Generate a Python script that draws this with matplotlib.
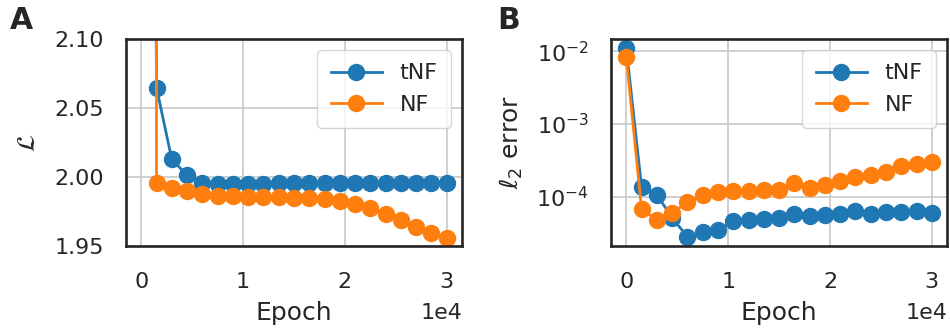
import numpy as np
import matplotlib
matplotlib.use("Agg")
from matplotlib import pyplot as plt
from matplotlib import transforms as mtransforms

# epochs (panel A shares the grid; the first loss value is far above the y range)
epochs = [0, 1500, 3000, 4500, 6000, 7500, 9000, 10500, 12000, 13500, 15000,
          16500, 18000, 19500, 21000, 22500, 24000, 25500, 27000, 28500, 30000]

loss_tnf = [4.0, 2.0647, 2.0127, 2.0013, 1.9957, 1.9948, 1.9948, 1.9950, 1.9952,
            1.9953, 1.9954, 1.9955, 1.9956, 1.9956, 1.9957, 1.9957, 1.9957,
            1.9957, 1.9957, 1.9957, 1.9957]
loss_nf = [12.0, 1.9960, 1.9923, 1.9899, 1.9880, 1.9863, 1.9860, 1.9856, 1.9853,
           1.9853, 1.9848, 1.9846, 1.9839, 1.9827, 1.9807, 1.9772, 1.9735,
           1.9691, 1.9638, 1.9594, 1.9558]

err_tnf = [1.10e-2, 1.34e-4, 1.07e-4, 5.08e-5, 2.82e-5, 3.23e-5, 3.48e-5, 4.58e-5,
           4.78e-5, 4.93e-5, 5.08e-5, 5.71e-5, 5.48e-5, 5.60e-5, 5.77e-5, 6.28e-5,
           5.71e-5, 6.08e-5, 6.15e-5, 6.35e-5, 5.90e-5]
err_nf = [8.27e-3, 6.76e-5, 4.78e-5, 5.96e-5, 8.36e-5, 1.05e-4, 1.16e-4, 1.18e-4,
          1.21e-4, 1.24e-4, 1.24e-4, 1.56e-4, 1.32e-4, 1.46e-4, 1.62e-4, 1.85e-4,
          2.01e-4, 2.18e-4, 2.61e-4, 2.84e-4, 2.97e-4]

BLUE = "#1f77b4"
ORANGE = "#ff7f0e"
DARK = "#262626"

plt.rcParams.update({
    "font.family": "DejaVu Sans",
    "font.size": 16,
    "text.color": DARK,
    "axes.labelcolor": DARK,
    "xtick.color": DARK,
    "ytick.color": DARK,
    "axes.edgecolor": DARK,
    "axes.linewidth": 1.9,
    "grid.color": "#cccccc",
    "grid.linewidth": 1.3,
    "legend.edgecolor": "#cccccc",
    "legend.framealpha": 0.8,
})

fig = plt.figure(figsize=(9.5, 3.31), dpi=100)
ax1 = fig.add_axes([0.1326, 0.2568, 0.3537, 0.6254])
ax2 = fig.add_axes([0.6432, 0.2568, 0.3537, 0.6254])


def style(ax):
    ax.grid(True, which="major")
    ax.set_axisbelow(True)
    ax.tick_params(axis="both", which="both", length=0, labelsize=16)
    ax.tick_params(axis="x", pad=19)
    ax.tick_params(axis="y", pad=16)
    ax.ticklabel_format(axis="x", style="sci", scilimits=(0, 0))
    off = ax.xaxis.get_offset_text()
    off.set_fontsize(16)
    off.set_transform(mtransforms.blended_transform_factory(ax.transAxes, mtransforms.IdentityTransform())
                      + mtransforms.ScaledTranslation(0, -6 / 100, fig.dpi_scale_trans))
    ax.set_xlabel("Epoch", fontsize=18, labelpad=6)
    ax.legend(loc="upper right", fontsize=16, numpoints=1, handlelength=2.3, borderpad=0.6)


ax1.plot(epochs, loss_tnf, "-o", color=BLUE, lw=2, ms=11.5, label="tNF")
ax1.plot(epochs, loss_nf, "-o", color=ORANGE, lw=2, ms=11.5, label="NF")
ax1.set_ylim(1.95, 2.10)
ax1.set_yticks([1.95, 2.00, 2.05, 2.10])
ax1.set_xlim(-1500, 31500)
ax1.set_ylabel(r"$\mathcal{L}$", fontsize=18, labelpad=10)
style(ax1)

ax2.plot(epochs, err_tnf, "-o", color=BLUE, lw=2, ms=11.5, label="tNF")
ax2.plot(epochs, err_nf, "-o", color=ORANGE, lw=2, ms=11.5, label="NF")
ax2.set_yscale("log")
ax2.set_xlim(-1500, 31500)
ax2.set_ylabel(r"$\ell_2$ error", fontsize=18, labelpad=8)
ax2.yaxis.set_minor_locator(matplotlib.ticker.NullLocator())
style(ax2)

fig.text(0.0105, 0.9124, "A", fontsize=21.5, fontweight="bold", va="baseline", color=DARK)
fig.text(0.523, 0.9124, "B", fontsize=21.5, fontweight="bold", va="baseline", color=DARK)

fig.savefig("out.png", dpi=100)
